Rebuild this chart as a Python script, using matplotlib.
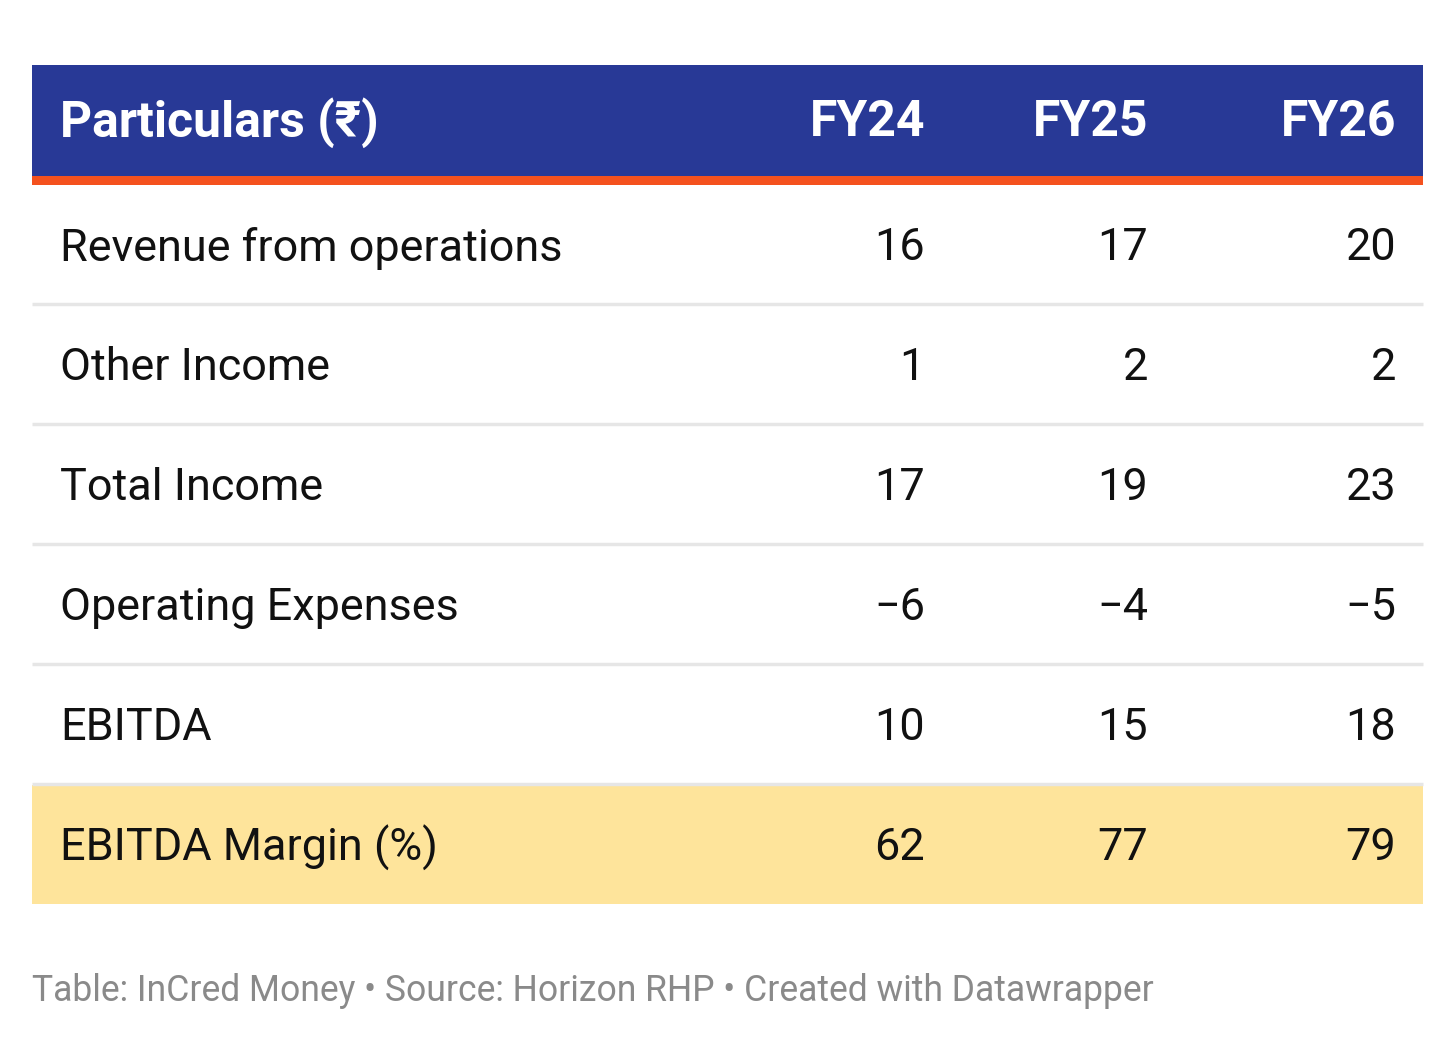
import matplotlib.pyplot as plt
from matplotlib.patches import Rectangle

# table content
columns = ["Particulars (₹)", "FY24", "FY25", "FY26"]
particulars = [
    "Revenue from operations",
    "Other Income",
    "Total Income",
    "Operating Expenses",
    "EBITDA",
    "EBITDA Margin (%)",
]
fy24 = [16, 1, 17, -6, 10, 62]
fy25 = [17, 2, 19, -4, 15, 77]
fy26 = [20, 2, 23, -5, 18, 79]
highlight_row = "EBITDA Margin (%)"
footer = "Table: InCred Money • Source: Horizon RHP • Created with Datawrapper"

NAVY = "#283996"
ORANGE = "#f4511e"
YELLOW = "#fee49b"
GRID = "#e6e6e6"
FONT = ["Roboto", "DejaVu Sans"]

W, H = 1456, 1044
fig = plt.figure(figsize=(W / 100, H / 100), dpi=100)
ax = fig.add_axes([0, 0, 1, 1])
ax.set_xlim(0, W)
ax.set_ylim(H, 0)
ax.axis("off")

left, right = 32, 1423
text_x = 60
col_right = [925, 1148, 1396]
header_top, header_bot = 65, 176
orange_h = 9
row_top = header_bot + orange_h
row_h = 120


def fmt(v):
    return f"−{abs(v)}" if v < 0 else str(v)


# header
ax.add_patch(Rectangle((left, header_top), right - left, header_bot - header_top,
                       color=NAVY, lw=0))
ax.add_patch(Rectangle((left, header_bot), right - left, orange_h, color=ORANGE, lw=0))
header_y = (header_top + header_bot) / 2 + 2
ax.text(text_x, header_y, columns[0], color="white", fontsize=35.9, fontweight="bold",
        family=FONT, ha="left", va="center")
for name, x in zip(columns[1:], col_right):
    ax.text(x, header_y, name, color="white", fontsize=35.9, fontweight="bold",
            family=FONT, ha="right", va="center")

# body rows
for i, label in enumerate(particulars):
    y0 = row_top + i * row_h
    if label == highlight_row:
        ax.add_patch(Rectangle((left, y0), right - left, row_h - 1, color=YELLOW, lw=0))
    elif i < len(particulars) - 1:
        ax.plot([left, right], [y0 + row_h - 1, y0 + row_h - 1], color=GRID, lw=2.5,
                solid_capstyle="butt")
    yc = y0 + row_h / 2 + 3
    ax.text(text_x, yc, label, color="#111111", fontsize=32.45, family=FONT,
            ha="left", va="center")
    for vals, x in zip([fy24, fy25, fy26], col_right):
        ax.text(x, yc, fmt(vals[i]), color="#111111", fontsize=32.45, family=FONT,
                ha="right", va="center")

ax.text(left, 991, footer, color="#8a8a8a", fontsize=25.6, family=FONT,
        ha="left", va="center")

fig.savefig("out.png", dpi=100, facecolor="white")
